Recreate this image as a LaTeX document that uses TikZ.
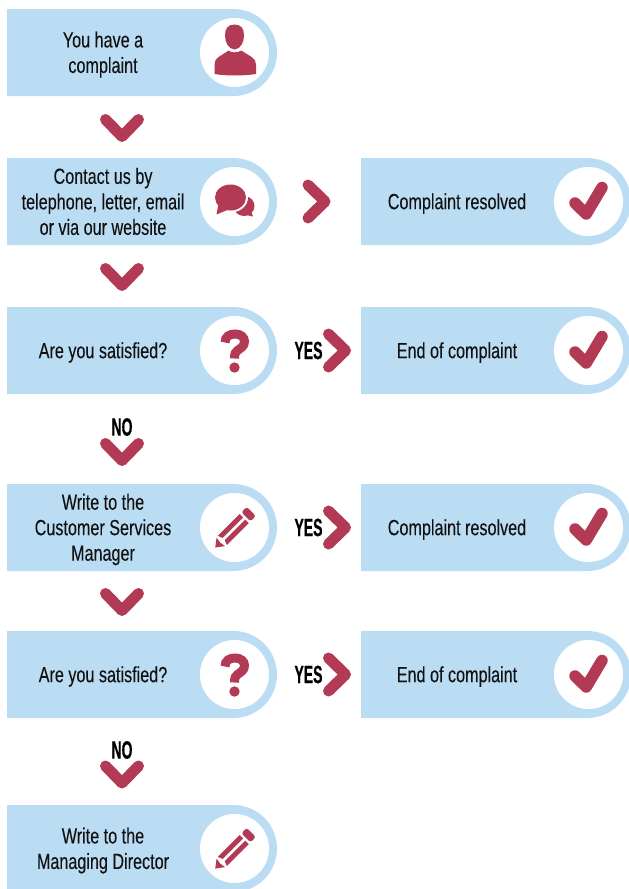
\documentclass[tikz,border=0pt]{standalone}
\usepackage{fontspec}
\usetikzlibrary{calc}
\newfontfamily\bodyfont[FakeStretch=0.735,FakeBold=0.12]{Liberation Sans}
\newfontfamily\tagfont[FakeStretch=0.56,FakeBold=0.5]{Liberation Sans Bold}
\definecolor{boxblue}{HTML}{BBDDF4}
\definecolor{crimson}{HTML}{B33A55}
\definecolor{inkblack}{HTML}{111111}
\tikzset{
  boxspace/.style={minimum width=270pt,minimum height=87pt,inner sep=0pt,outer sep=0pt},
  boxtext/.style={align=center,inner sep=0pt,text=inkblack,font=\bodyfont\fontsize{22}{25.5}\selectfont},
  tagtext/.style={inner sep=0pt,text=black,font=\tagfont\fontsize{25}{25}\selectfont},
  chev/.style={draw=crimson,line width=11pt,line cap=round,line join=round},
  tick/.style={draw=crimson,line width=11.5pt,line cap=round,line join=round},
  quest/.style={draw=crimson,line width=9pt,line cap=butt},
}
% icons, drawn round the centre of the white disc
\newcommand{\iconperson}{%
  \fill[crimson] (0,-28) .. controls (6.5,-28) and (9.5,-24) .. (9.5,-17)
     .. controls (9.5,-10) and (6,-3.5) .. (0,-3) .. controls (-6,-3.5) and (-9.5,-10) .. (-9.5,-17)
     .. controls (-9.5,-24) and (-6.5,-28) .. (0,-28) -- cycle;
  \fill[crimson] (-20,21.5) -- (-20,12) .. controls (-20,5) and (-14,4) .. (-6,-2)
     .. controls (-3,0.5) and (3,0.5) .. (7,-2) .. controls (15,4) and (21.5,5) .. (21.5,12)
     -- (21.5,21.5) .. controls (8,23.5) and (-8,23.5) .. (-20,21.5) -- cycle;
}
\newcommand{\iconchat}{%
  \fill[crimson] (9.5,4.5) ellipse [x radius=10.5,y radius=10];
  \fill[crimson] (5,12) -- (18.5,15) -- (16,8) -- cycle;
  \fill[white] (-4,-4) ellipse [x radius=17.5,y radius=15];
  \fill[crimson] (-4,-4) ellipse [x radius=15.5,y radius=13];
  \fill[crimson] (-16,2) -- (-18,13) -- (-6,8) -- cycle;
}
\newcommand{\iconquestion}{%
  \draw[quest] (-9.5,-8) .. controls (-9.5,-14) and (-5,-16.5) .. (0.5,-16.5)
     .. controls (6,-16.5) and (10,-13.5) .. (10,-9)
     .. controls (10,-4) and (6,-2.5) .. (3,0) .. controls (1,1.5) and (0,3) .. (0,8);
  \fill[crimson] (0,17) circle [radius=5.2];
}
\newcommand{\iconpencil}{%
  \begin{scope}[shift={(-19.3,20)},rotate=45]
    \fill[crimson] (0,0) -- (8,-6) -- (7,0) -- (8,6) -- cycle;
    \fill[crimson] (12,1.5) -- (41,1.5) -- (41,6.5) -- (10,6.5) -- cycle;
    \fill[crimson] (12,-1.5) -- (41,-1.5) -- (41,-6.5) -- (10,-6.5) -- cycle;
    \fill[crimson,rounded corners=2.5pt] (43.5,-6.5) -- (51,-6.5) -- (51,6.5) -- (43.5,6.5) -- cycle;
  \end{scope}
}
\newcommand{\icontick}{%
  \draw[tick] (-13.5,1.5) -- (-2.3,12.5) -- (13.5,-14);
}
% name, left, top, text, icon, vertical shift of the text
\newcommand{\flowbox}[6]{%
  \fill[boxblue] (#2,#3) -- ({#2+226.5},#3) arc [start angle=-90,end angle=90,radius=43.5] -- (#2,{#3+87}) -- cycle;
  \fill[white] ({#2+227.5},{#3+43.5}) circle [radius=34.5];
  \node[boxspace] (#1) at ({#2+135},{#3+43.5}) {};
  \node[boxtext] (#1text) at ({#2+96},{#3+#6}) {#4};
  \begin{scope}[shift={({#2+227.5},{#3+43.5})}]#5\end{scope}
}
% from, to, vertical offset from the midpoint
\newcommand{\chevdown}[3]{%
  \coordinate (mid#1#2) at ($(#1.south)!.5!(#2.north)+(-20,#3)$);
  \draw[chev] ($(mid#1#2)+(-16.5,-8.5)$) -- ($(mid#1#2)+(0,8.5)$) -- ($(mid#1#2)+(16.5,-8.5)$);
}
% from, to, horizontal offset from the midpoint
\newcommand{\chevright}[3]{%
  \coordinate (mid#1#2) at ($(#1.east)!.5!(#2.west)+(#3,0)$);
  \draw[chev] ($(mid#1#2)+(-8.5,-16.5)$) -- ($(mid#1#2)+(8.5,0)$) -- ($(mid#1#2)+(-8.5,16.5)$);
}
\begin{document}
\begin{tikzpicture}[x=1pt,y=-1pt]
\useasboundingbox (0,0) rectangle (629,889);
\clip (0,0) rectangle (629,889);
\flowbox{a}{7}{9}{You have a\\complaint}{\iconperson}{45.5}
\flowbox{b}{7}{158}{Contact us by\\telephone, letter, email\\or via our website}{\iconchat}{43.5}
\flowbox{c}{7}{307}{Are you satisfied?}{\iconquestion}{45.5}
\flowbox{d}{7}{484}{Write to the\\Customer Services\\Manager}{\iconpencil}{45.5}
\flowbox{e}{7}{631}{Are you satisfied?}{\iconquestion}{45.5}
\flowbox{f}{7}{805}{Write to the\\Managing Director}{\iconpencil}{45.5}
\flowbox{p}{361}{158}{Complaint resolved}{\icontick}{45.5}
\flowbox{q}{361}{307}{End of complaint}{\icontick}{45.5}
\flowbox{r}{361}{484}{Complaint resolved}{\icontick}{45.5}
\flowbox{s}{361}{631}{End of complaint}{\icontick}{45.5}
\chevdown{a}{b}{1}
\chevdown{b}{c}{1}
\chevdown{c}{d}{13}
\chevdown{d}{e}{1}
\chevdown{e}{f}{13}
\chevright{b}{p}{-2.5}
\chevright{c}{q}{18}
\chevright{d}{r}{18}
\chevright{e}{s}{18}
\node[tagtext] (yes1) at ($(c.east)!.5!(q.west)+(-10.5,0)$) {YES};
\node[tagtext] (yes2) at ($(d.east)!.5!(r.west)+(-10.5,0)$) {YES};
\node[tagtext] (yes3) at ($(e.east)!.5!(s.west)+(-10.5,0)$) {YES};
\node[tagtext] (no1) at ($(c.south)!.5!(d.north)+(-20,-12)$) {NO};
\node[tagtext] (no2) at ($(e.south)!.5!(f.north)+(-20,-11.5)$) {NO};
\end{tikzpicture}
\end{document}
